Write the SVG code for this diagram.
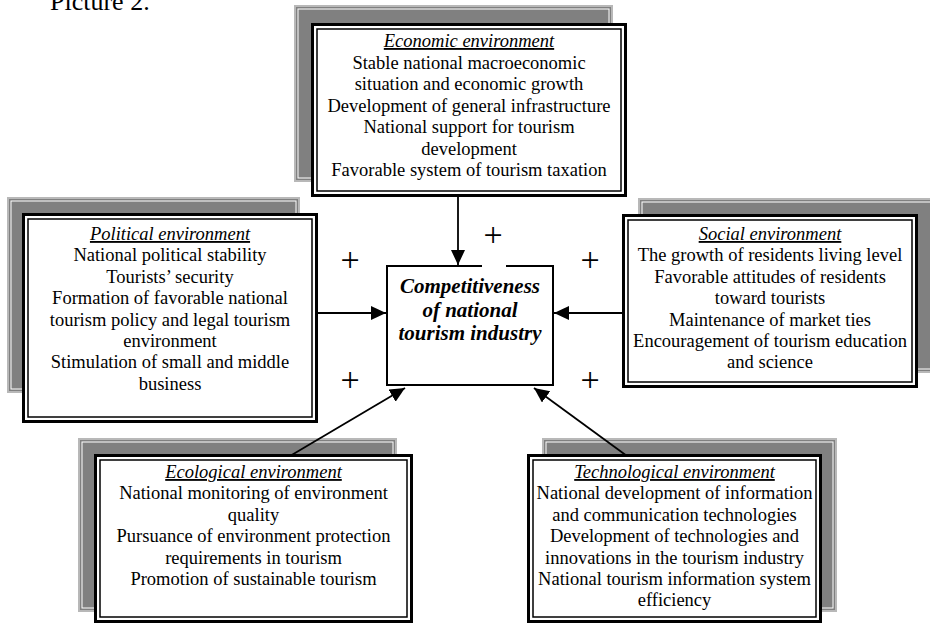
<svg xmlns="http://www.w3.org/2000/svg" width="930" height="626" viewBox="0 0 930 626">
<defs>
<style>
.sh{fill:#808080;stroke:#b8b8b8;stroke-width:2}
.shi{fill:none;stroke:#ffffff;stroke-width:1}
.bo{fill:#ffffff;stroke:#000000;stroke-width:3}
.bi{fill:none;stroke:#000000;stroke-width:1.5}
.t{font-family:"Liberation Serif","Times New Roman",serif;font-size:18.5px;fill:#000000;text-anchor:middle}
.ti{font-style:italic;text-decoration:underline}
.c{font-family:"Liberation Serif","Times New Roman",serif;font-size:21px;font-weight:bold;font-style:italic;fill:#000000;text-anchor:middle}
.p{font-family:"Liberation Serif","Times New Roman",serif;font-size:34px;fill:#000000;text-anchor:middle}
.ln{stroke:#000000;stroke-width:1.8;fill:none;marker-end:url(#ah)}
</style>
<marker id="ah" markerUnits="userSpaceOnUse" markerWidth="16" markerHeight="15" refX="15" refY="7" orient="auto">
<path d="M0,0 L15,7 L0,14 z" fill="#000000"/>
</marker>
</defs>
<rect width="930" height="626" fill="#ffffff"/>
<text x="50" y="10" style="font-family:'Liberation Serif','Times New Roman',serif;font-size:26px;fill:#000">Picture 2.</text>

<g id="economic">
<rect class="sh" x="295" y="6" width="317" height="175"/>
<rect class="shi" x="298" y="9" width="311" height="169"/>
<rect class="bo" x="312.5" y="24.5" width="313" height="171"/>
<rect class="bi" x="317" y="29" width="304" height="162"/>
<text class="t ti" x="469" y="47">Economic environment</text>
<text class="t" x="469" y="68.5">Stable national macroeconomic</text>
<text class="t" x="469" y="90">situation and economic growth</text>
<text class="t" x="469" y="111.5">Development of general infrastructure</text>
<text class="t" x="469" y="133">National support for tourism</text>
<text class="t" x="469" y="154.5">development</text>
<text class="t" x="469" y="176">Favorable system of tourism taxation</text>
</g>

<g id="political">
<rect class="sh" x="8" y="198" width="291" height="194"/>
<rect class="shi" x="11" y="201" width="285" height="188"/>
<rect class="bo" x="23.5" y="214.5" width="293" height="207"/>
<rect class="bi" x="28" y="219" width="284" height="198"/>
<text class="t ti" x="170" y="240">Political environment</text>
<text class="t" x="170" y="261.4">National political stability</text>
<text class="t" x="170" y="282.8">Tourists’ security</text>
<text class="t" x="170" y="304.2">Formation of favorable national</text>
<text class="t" x="170" y="325.6">tourism policy and legal tourism</text>
<text class="t" x="170" y="347">environment</text>
<text class="t" x="170" y="368.4">Stimulation of small and middle</text>
<text class="t" x="170" y="389.8">business</text>
</g>

<g id="social">
<rect class="sh" x="639" y="199" width="300" height="173"/>
<rect class="shi" x="642" y="202" width="294" height="167"/>
<rect class="bo" x="623.5" y="215.5" width="293" height="171"/>
<rect class="bi" x="628" y="220" width="284" height="162"/>
<text class="t ti" x="770" y="240">Social environment</text>
<text class="t" x="770" y="261.4">The growth of residents living level</text>
<text class="t" x="770" y="282.8">Favorable attitudes of residents</text>
<text class="t" x="770" y="304.2">toward tourists</text>
<text class="t" x="770" y="325.6">Maintenance of market ties</text>
<text class="t" x="770" y="347">Encouragement of tourism education</text>
<text class="t" x="770" y="368.4">and science</text>
</g>

<g id="ecological">
<rect class="sh" x="79" y="439" width="317" height="172"/>
<rect class="shi" x="82" y="442" width="311" height="166"/>
<rect class="bo" x="95.5" y="455.5" width="316" height="166"/>
<rect class="bi" x="100" y="460" width="307" height="157"/>
<text class="t ti" x="253.5" y="478">Ecological environment</text>
<text class="t" x="253.5" y="499.4">National monitoring of environment</text>
<text class="t" x="253.5" y="520.8">quality</text>
<text class="t" x="253.5" y="542.2">Pursuance of environment protection</text>
<text class="t" x="253.5" y="563.6">requirements in tourism</text>
<text class="t" x="253.5" y="585">Promotion of sustainable tourism</text>
</g>

<g id="technological">
<rect class="sh" x="543" y="439" width="293" height="172"/>
<rect class="shi" x="546" y="442" width="287" height="166"/>
<rect class="bo" x="528.5" y="455.5" width="292" height="166"/>
<rect class="bi" x="533" y="460" width="283" height="157"/>
<text class="t ti" x="674.5" y="478">Technological environment</text>
<text class="t" x="674.5" y="499.4">National development of information</text>
<text class="t" x="674.5" y="520.8">and communication technologies</text>
<text class="t" x="674.5" y="542.2">Development of technologies and</text>
<text class="t" x="674.5" y="563.6">innovations in the tourism industry</text>
<text class="t" x="674.5" y="585">National tourism information system</text>
<text class="t" x="674.5" y="606.4">efficiency</text>
</g>

<g id="center">
<rect x="387" y="266" width="166" height="119" fill="#ffffff" stroke="#000000" stroke-width="2"/>
<text class="c" x="470" y="293">Competitiveness</text>
<text class="c" x="470" y="316.5">of national</text>
<text class="c" x="470" y="340">tourism industry</text>
</g>

<g id="connectors">
<line class="ln" x1="458" y1="197" x2="458" y2="265"/>
<line class="ln" x1="318" y1="313" x2="386" y2="313"/>
<line class="ln" x1="622" y1="313" x2="554" y2="313"/>
<line class="ln" x1="290" y1="456" x2="405" y2="388"/>
<line class="ln" x1="627" y1="456" x2="534" y2="388"/>
</g>

<g id="signs">
<rect x="482" y="263" width="24" height="5" fill="#ffffff"/>
<text class="p" x="493" y="246">+</text>
<text class="p" x="350" y="271">+</text>
<text class="p" x="590" y="271">+</text>
<text class="p" x="350" y="391">+</text>
<text class="p" x="590" y="391">+</text>
</g>
</svg>
